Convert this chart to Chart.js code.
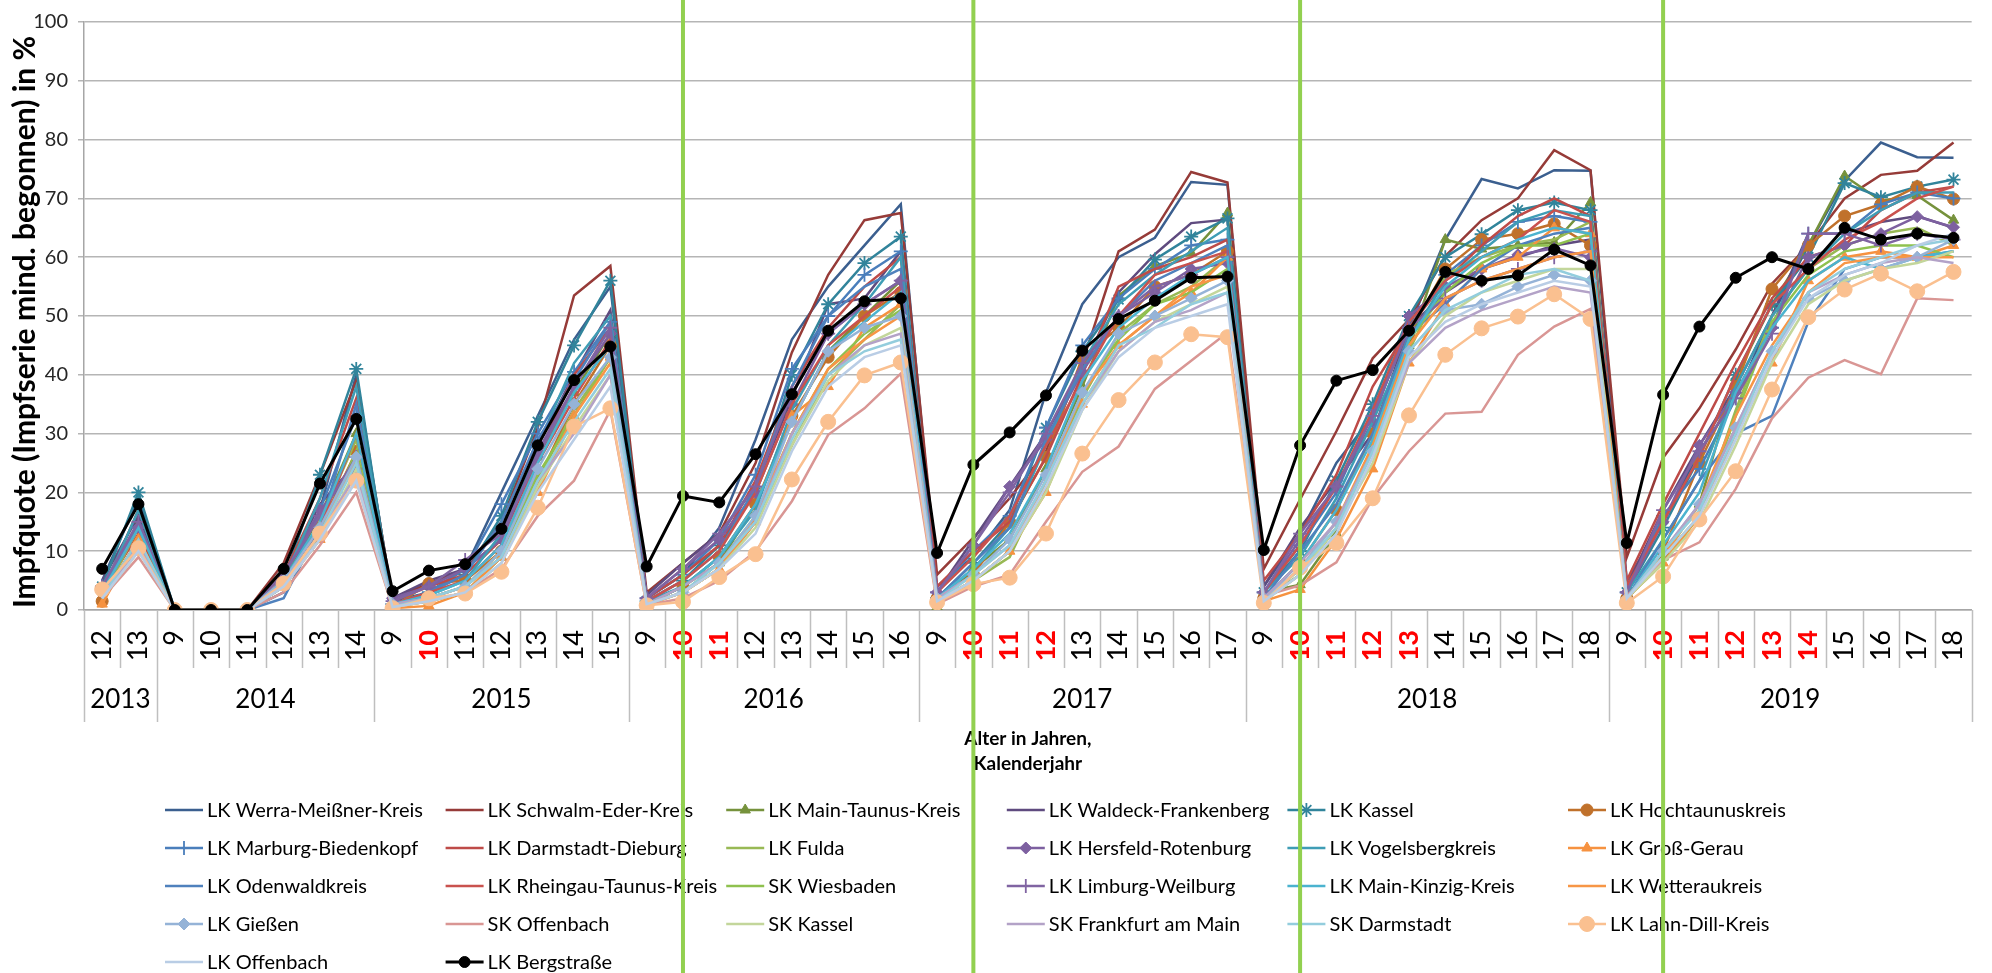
<!DOCTYPE html>
<html lang="de">
<head>
<meta charset="utf-8">
<title>Impfquote nach Alter und Kalenderjahr</title>
<script src="https://cdn.jsdelivr.net/npm/chart.js@4.4.1/dist/chart.umd.min.js"></script>
<style>
  html, body { margin: 0; padding: 0; background: #fff; overflow: hidden; }
  #wrap { width: 1998px; height: 973px; position: relative; }
</style>
</head>
<body>
<div id="wrap"><canvas id="QuoteChart"></canvas></div>
<script>
// x axis: calendar years and the age span shown per year
const years = [2013, 2014, 2015, 2016, 2017, 2018, 2019];
const firstAge = [12, 9, 9, 9, 9, 9, 9];
const lastAge = [13, 14, 15, 16, 17, 18, 18];
// ages printed bold red per year
const redAges = [[], [], [10], [10, 11], [10, 11, 12], [10, 11, 12, 13], [10, 11, 12, 13, 14]];
// green marker lines at age 10 in these years
const greenYears = [2016, 2017, 2018, 2019];

// values in % per series, in axis order (2013 | 2014 | 2015 | 2016 | 2017 | 2018 | 2019)
const werraMeissner = [5, 19, 0, 0, 0, 3, 17, 40, 1.5, 3, 7, 20, 33, 46, 55, 2, 6, 14, 29, 46, 55, 62, 69, 4, 9, 17, 37, 52, 60, 63.3, 72.8, 72.3, 4, 13, 25, 33, 48, 63, 73.3, 71.7, 74.8, 74.7, 5, 15, 27, 36, 50, 62, 73, 79.5, 77, 76.9];
const schwalmEder = [3, 17, 0, 0, 0, 8, 23, 39, 2, 4.5, 7, 15, 31, 53.5, 58.5, 3, 8, 13, 25, 43.8, 57, 66.3, 67.5, 6, 12.3, 19, 27, 42, 61, 64.7, 74.5, 72.7, 7, 18.8, 30.4, 42.8, 49.4, 60.2, 66.3, 70, 78.2, 74.8, 9, 25.9, 34.3, 44.3, 55.5, 62, 70, 74, 74.7, 79.5];
const mainTaunus = [2, 15, 0, 0, 0, 5, 16, 30, 0.5, 1.5, 3, 9, 26, 37, 47, 1, 4, 8, 18, 32, 44, 50, 56, 0.5, 7, 12, 24, 38, 53.4, 58.5, 60.7, 67.5, 3, 4.3, 13, 28, 45, 63, 61.4, 62, 62.5, 69.3, 2, 9, 18, 39.5, 52, 62, 73.8, 69.6, 70.5, 66.3];
const waldeckFrankenberg = [5, 16, 0, 0, 0, 6, 18, 25, 2, 5, 7, 12, 28, 40, 51, 2.5, 8, 13, 21, 36, 52, 53, 61, 3, 12, 21, 30, 41, 54, 60.5, 65.8, 66.4, 4, 14, 22, 30, 48, 54, 58, 60, 62, 63, 4, 17, 28, 38, 50, 64, 64, 66, 67, 65];
const kassel = [4, 20, 0, 0, 0, 5, 23, 41, 1, 3, 6, 16, 32, 45, 56, 1.5, 5, 11, 20, 40, 52, 59, 63.5, 2, 8, 15, 31, 44, 52.8, 59.6, 63.5, 66.6, 3, 10, 22, 35, 50, 60, 63.9, 68, 69.3, 68, 3, 14, 26, 40, 52, 60, 72.6, 70.2, 72, 73.2];
const hochtaunus = [1.5, 11, 0, 0, 0, 5, 14, 27, 0.5, 4.5, 5, 10, 22, 35, 45, 1, 4, 9, 18, 33, 43, 50, 54, 2, 6, 15, 26, 43, 48, 55, 57, 61, 2, 8, 17, 30, 47, 58, 63, 64, 65.7, 62, 2, 10, 25, 38, 54.6, 62, 67, 69, 72, 69.9];
const marburgBiedenkopf = [4, 14, 0, 0, 0, 4, 17, 33, 1, 3, 7, 18, 30, 40.5, 49, 2, 6, 12, 23, 41, 50, 57, 61, 3, 10, 16, 31, 45, 53, 58, 62, 63, 3, 11, 20, 34, 48, 57, 62, 66, 67, 66, 3, 16, 24, 36, 48, 64, 64, 69, 71, 70];
const darmstadtDieburg = [3, 13, 0, 0, 0, 6, 19, 36, 1.5, 4, 6, 12, 26, 40, 48, 2, 6, 11, 22, 38, 48, 55, 60, 4, 10, 15, 26, 40, 55, 58, 60, 63, 5, 13, 23, 38, 48, 56, 62, 67, 70, 67, 5, 18, 30, 42, 53, 60, 62, 68, 71, 72];
const fulda = [2, 14, 0, 0, 0, 4, 15, 29, 0.5, 2, 4, 9, 22, 34, 43, 1, 3, 7, 15, 28, 40, 46, 52, 1, 5, 9, 22, 36, 47, 52, 55, 60, 2, 6, 14, 27, 44, 57, 60, 62, 63, 66, 2, 8, 16, 34, 50, 58, 62, 64, 65, 62];
const hersfeldRotenburg = [3, 14, 0, 0, 0, 6, 17, 24, 2, 4, 7, 12, 27, 38, 47, 2, 7, 12, 20, 35, 47, 52, 56, 3, 11, 21, 29, 40.5, 50, 54, 58, 59, 3, 12, 21, 32, 50, 55, 58, 60.4, 61.5, 60, 3, 15, 28, 37, 48, 60, 62, 64, 66.9, 65.1];
const vogelsberg = [3, 17, 0, 0, 0, 5, 19, 38, 1, 2.5, 5, 13, 28, 42, 50, 1.5, 4, 9, 17, 34, 45, 52, 60, 2, 7, 14, 28, 42, 52, 57, 61, 65, 3, 9, 19, 32, 46, 56, 61, 66, 68, 67, 3, 12, 22, 38, 50, 58, 64, 68, 71, 71];
const grossGerau = [1, 12, 0, 0, 0, 4, 12, 26, 0.3, 0.7, 3, 9, 20, 33, 43, 0.8, 3, 7, 15, 33, 38, 48, 52, 1.5, 5, 10, 20, 35, 45, 50, 54, 60, 1.5, 3.5, 12, 24, 42, 52, 58, 60, 65, 64, 2, 8, 16, 30, 42, 56, 60, 61, 60, 62];
const odenwald = [4, 15, 0, 0, 0, 2, 14, 35, 1, 3, 6, 15, 29, 39, 49, 1.5, 5, 10, 21, 38, 50, 55, 58, 2, 8, 14, 29, 41, 50, 56, 59, 62, 2, 10, 18, 30, 47, 52, 58, 62, 64, 65, 2, 12, 22, 30, 33, 49, 58, 60, 60, 61];
const rheingauTaunus = [2, 12, 0, 0, 0, 5, 14, 30, 1, 3, 5, 11, 25, 36, 46, 1.5, 5, 10, 20, 35, 45, 50, 55, 3, 9, 16, 28, 39, 50, 57, 59, 61, 3, 11, 21, 34, 49, 56, 60, 63, 68, 66, 4, 15, 26, 40, 52, 58, 63, 66, 70, 72];
const wiesbaden = [2, 12, 0, 0, 0, 4, 13, 27, 0.5, 2, 4, 10, 23, 33, 43, 1, 3, 8, 16, 30, 41, 47, 51, 1.5, 5, 10, 22, 37, 46, 52, 54, 58, 1.5, 6, 14, 28, 46, 54, 59, 62, 62, 64, 2, 9, 16, 33, 49, 57, 61, 62, 62, 60];
const limburgWeilburg = [4, 15, 0, 0, 0, 6, 16, 26, 1.5, 4, 8.5, 13, 26, 38, 48, 2, 7, 13, 21, 37, 47, 52, 56, 3, 11, 20, 30, 42, 50, 55, 57, 60, 3, 13, 21, 33, 48, 53, 56, 58, 60, 61, 3, 17, 27, 36, 47, 64, 64, 62, 64, 63];
const mainKinzig = [3, 14, 0, 0, 0, 5, 15, 30, 1, 2.5, 5, 11, 25, 37, 45, 1, 4, 9, 18, 32, 44, 49, 54, 2, 7, 13, 24, 39, 48, 53, 57, 60, 2, 8, 17, 29, 46, 55, 60, 63, 65, 64, 2, 11, 20, 37, 48, 56, 60, 58, 60, 61];
const wetterau = [2, 12, 0, 0, 0, 4, 13, 26, 0.5, 2, 4, 9, 21, 33, 42, 1, 3, 7, 16, 30, 41, 46, 50, 1.5, 5, 10, 22, 37, 45, 50, 55, 57, 1.5, 7, 15, 28, 45, 53, 56, 58, 60, 61, 2, 9, 18, 33, 45, 54, 59, 60, 60, 60];
const giessen = [3, 11, 0, 0, 0, 5, 14, 26, 1, 2, 4, 10, 24, 35, 43, 1, 3, 8, 16, 32, 44, 48, 50, 2, 6, 12, 23, 37, 47, 50, 53, 56, 2, 7, 15, 27, 44, 51, 52, 55, 57, 56, 2, 10, 18, 31, 44, 53, 56, 58, 60, 63];
const skOffenbach = [2, 9, 0, 0, 0, 3, 11, 20, 0.5, 1.5, 3, 7, 16, 22, 34, 0.8, 2, 5, 10, 18.5, 29.8, 34.3, 40.2, 1, 4, 6, 15, 23.5, 27.8, 37.6, 42.4, 47.2, 2.4, 4.2, 8.1, 19, 27, 33.4, 33.7, 43.4, 48.2, 51.2, 2.4, 8.5, 11.5, 20.6, 32.6, 39.5, 42.5, 40.1, 53, 52.7];
const skKassel = [2, 10, 0, 0, 0, 4, 12, 24, 0.5, 1.5, 3, 8, 21, 31, 40, 1, 3, 7, 14, 28, 39, 45, 48, 1.5, 5, 10, 20, 34, 44, 49, 52, 55, 1.5, 6, 14, 25, 42, 50, 54, 56, 58, 58, 2, 8, 15, 28, 42, 52, 56, 58, 59, 61];
const skFrankfurt = [2, 11, 0, 0, 0, 4, 13, 23, 1, 2, 4, 9, 22, 30, 40, 1, 4, 8, 15, 30, 40, 45, 47, 2, 6, 11, 22, 35, 44, 49, 51, 54, 2, 8, 15, 27, 42, 48, 51, 53, 55, 54, 2, 10, 18, 31, 44, 54, 57, 59, 60, 59];
const skDarmstadt = [2, 12, 0, 0, 0, 4, 13, 25, 0.5, 2, 4, 9, 22, 32, 41, 1, 3, 8, 15, 29, 40, 44, 46, 1.5, 6, 11, 22, 35, 45, 48, 52, 54, 1.5, 7, 14, 27, 44, 51, 54, 57, 58, 56, 2, 10, 17, 30, 44, 54, 58, 60, 62, 63];
const lahnDill = [3.5, 10.5, 0, 0, 0, 4.5, 13, 22, 0.3, 2, 2.8, 6.5, 17.4, 31.2, 34.3, 0.8, 1.4, 5.6, 9.5, 22.2, 32, 39.9, 42.1, 1.3, 4.4, 5.5, 13, 26.6, 35.7, 42.1, 46.9, 46.4, 1.2, 7.2, 11.4, 19, 33.1, 43.4, 47.9, 49.9, 53.7, 49.5, 1.2, 5.7, 15.4, 23.6, 37.5, 49.8, 54.5, 57.2, 54.2, 57.5];
const lkOffenbach = [2, 10, 0, 0, 0, 4, 12, 22, 0.5, 1.5, 3, 8, 20, 29, 38, 1, 3, 7, 13, 27, 38, 43, 45, 1.5, 5, 10, 21, 34, 43, 48, 50, 52, 1.5, 6, 13, 26, 43, 49, 52, 54, 56, 55, 2, 9, 16, 29, 43, 53, 57, 59, 62, 64];
const bergstrasse = [7, 18, 0, 0, 0, 7, 21.5, 32.5, 3.2, 6.7, 7.8, 13.8, 28, 39.1, 44.8, 7.4, 19.4, 18.3, 26.5, 36.7, 47.5, 52.5, 53, 9.7, 24.7, 30.2, 36.5, 44.1, 49.5, 52.6, 56.5, 56.7, 10.2, 28, 39, 40.8, 47.5, 57.5, 56, 56.9, 61.3, 58.6, 11.4, 36.6, 48.2, 56.5, 60, 58, 65, 63, 64, 63.3];

const seriesNames = [
  "LK Werra-Meißner-Kreis", "LK Schwalm-Eder-Kreis", "LK Main-Taunus-Kreis", "LK Waldeck-Frankenberg", "LK Kassel", "LK Hochtaunuskreis",
  "LK Marburg-Biedenkopf", "LK Darmstadt-Dieburg", "LK Fulda", "LK Hersfeld-Rotenburg", "LK Vogelsbergkreis", "LK Groß-Gerau",
  "LK Odenwaldkreis", "LK Rheingau-Taunus-Kreis", "SK Wiesbaden", "LK Limburg-Weilburg", "LK Main-Kinzig-Kreis", "LK Wetteraukreis",
  "LK Gießen", "SK Offenbach", "SK Kassel", "SK Frankfurt am Main", "SK Darmstadt", "LK Lahn-Dill-Kreis",
  "LK Offenbach", "LK Bergstraße"
];
const seriesValues = [
  werraMeissner, schwalmEder, mainTaunus, waldeckFrankenberg, kassel, hochtaunus,
  marburgBiedenkopf, darmstadtDieburg, fulda, hersfeldRotenburg, vogelsberg, grossGerau,
  odenwald, rheingauTaunus, wiesbaden, limburgWeilburg, mainKinzig, wetterau,
  giessen, skOffenbach, skKassel, skFrankfurt, skDarmstadt, lahnDill,
  lkOffenbach, bergstrasse
];

// line colour and marker per series (same order as above)
const lineColors = [
  "#3b5f8f", "#963b38", "#76923c", "#5f4b7f", "#31849b", "#c0712b",
  "#4a7ebb", "#be4b48", "#98b954", "#7d60a0", "#3f9db5", "#f69240",
  "#4f81bd", "#c9524e", "#8fc14f", "#8064a2", "#4bb3cf", "#f79646",
  "#95b3d7", "#d99694", "#c3d69b", "#b3a2c7", "#93cddd", "#fac090",
  "#b9cde5", "#000000"
];
const markers = {
  2: ["triangle", 6], 4: ["star", 7], 5: ["circle", 6], 6: ["cross", 7], 9: ["rectRot", 6],
  11: ["triangle", 6], 15: ["cross", 7], 18: ["rectRot", 6], 23: ["circle", 7.5], 25: ["circle", 5.5]
};

// build category labels
const labels = [];
const labelYear = [];
const groupStarts = [];
years.forEach((y, k) => {
  groupStarts.push(labels.length);
  for (let a = firstAge[k]; a <= lastAge[k]; a++) {
    labels.push(String(a));
    labelYear.push(k);
  }
});
function isRed(i) {
  return redAges[labelYear[i]].includes(Number(labels[i]));
}

const datasets = seriesValues.map((vals, i) => {
  const m = markers[i];
  const black = i === seriesValues.length - 1;
  return {
    label: seriesNames[i],
    data: vals,
    borderColor: lineColors[i],
    backgroundColor: lineColors[i],
    borderWidth: black ? 3 : 2.5,
    tension: 0,
    pointStyle: m ? m[0] : false,
    pointRadius: m ? m[1] : 0,
    pointBorderWidth: m && (m[0] === "star" || m[0] === "cross") ? 1.8 : 1,
    pointBackgroundColor: lineColors[i],
    pointBorderColor: lineColors[i],
    order: seriesValues.length - 1 - i
  };
});

const font = "Lato";

// year row, separators, titles, legend and green marker lines
const framePlugin = {
  id: "frame",
  afterDraw(chart) {
    const { ctx, chartArea } = chart;
    const catW = (chartArea.right - chartArea.left) / labels.length;
    ctx.save();

    ctx.strokeStyle = "#bfbfbf";
    ctx.lineWidth = 1.5;
    for (let i = 0; i <= labels.length; i++) {
      const px = Math.round(chartArea.left + i * catW) + 0.5;
      const group = groupStarts.includes(i) || i === labels.length;
      ctx.beginPath();
      ctx.moveTo(px, chartArea.bottom);
      ctx.lineTo(px, group ? 722 : 668);
      ctx.stroke();
    }

    ctx.fillStyle = "#000";
    ctx.textAlign = "center";
    ctx.textBaseline = "middle";
    ctx.font = `26px ${font}`;
    years.forEach((y, k) => {
      const start = groupStarts[k];
      const end = k + 1 < groupStarts.length ? groupStarts[k + 1] : labels.length;
      ctx.fillText(String(y), chartArea.left + (start + end) / 2 * catW, 700);
    });

    ctx.font = `bold 19px ${font}`;
    const midX = (chartArea.left + chartArea.right) / 2;
    ctx.fillText("Alter in Jahren,", midX, 739);
    ctx.fillText("Kalenderjahr", midX, 764);

    ctx.save();
    ctx.translate(25, 322);
    ctx.rotate(-Math.PI / 2);
    ctx.font = `bold 30px ${font}`;
    ctx.fillText("Impfquote (Impfserie mind. begonnen) in %", 0, 0);
    ctx.restore();

    // legend, 6 columns
    ctx.textAlign = "left";
    ctx.font = `20px ${font}`;
    chart.data.datasets.forEach((ds, i) => {
      const lx = 165 + (i % 6) * 280.6;
      const ly = 810 + Math.floor(i / 6) * 38;
      ctx.strokeStyle = ds.borderColor;
      ctx.lineWidth = ds.borderWidth;
      ctx.beginPath();
      ctx.moveTo(lx, ly);
      ctx.lineTo(lx + 38, ly);
      ctx.stroke();
      if (ds.pointStyle) {
        ctx.fillStyle = ds.pointBackgroundColor;
        ctx.strokeStyle = ds.pointBorderColor;
        ctx.lineWidth = ds.pointBorderWidth;
        Chart.helpers.drawPoint(ctx, { pointStyle: ds.pointStyle, radius: ds.pointRadius, rotation: 0, borderWidth: ds.pointBorderWidth }, lx + 19, ly);
      }
      ctx.fillStyle = "#000";
      ctx.fillText(ds.label, lx + 42, ly + 1);
    });

    // green lines through age 10
    const x = chart.scales.x;
    ctx.strokeStyle = "#92d050";
    ctx.lineWidth = 4;
    greenYears.forEach(y => {
      const k = years.indexOf(y);
      const idx = groupStarts[k] + (10 - firstAge[k]);
      const gx = x.getPixelForValue(idx);
      ctx.beginPath();
      ctx.moveTo(gx, 0);
      ctx.lineTo(gx, chart.height);
      ctx.stroke();
    });
    ctx.restore();
  }
};

function drawChart() {
  const ctx = document.getElementById("QuoteChart").getContext("2d");
  new Chart(ctx, {
    type: "line",
    data: { labels: labels, datasets: datasets },
    options: {
      responsive: true,
      maintainAspectRatio: false,
      animation: false,
      events: [],
      layout: { padding: { top: 18, left: 0, right: 0, bottom: 0 } },
      plugins: { legend: { display: false }, tooltip: { enabled: false } },
      scales: {
        x: {
          offset: true,
          grid: { display: false },
          border: { display: true, color: "#a6a6a6", width: 1.5 },
          ticks: {
            autoSkip: false,
            minRotation: 90,
            maxRotation: 90,
            padding: 12,
            color: c => isRed(c.index) ? "#ff0000" : "#000",
            font: c => ({ family: font, size: 27, weight: isRed(c.index) ? "bold" : "normal" })
          },
          afterFit: s => { s.height = 363; }
        },
        y: {
          min: 0,
          max: 100,
          grid: { color: "#b5b5b5", lineWidth: 1.5, tickLength: 6 },
          border: { color: "#a6a6a6", width: 1.5 },
          ticks: { stepSize: 10, padding: 10, color: "#262626", font: { family: font, size: 20 } },
          afterFit: s => { s.width = 84; }
        }
      }
    },
    plugins: [framePlugin]
  });
}
document.addEventListener("DOMContentLoaded", drawChart);
</script>
</body>
</html>
